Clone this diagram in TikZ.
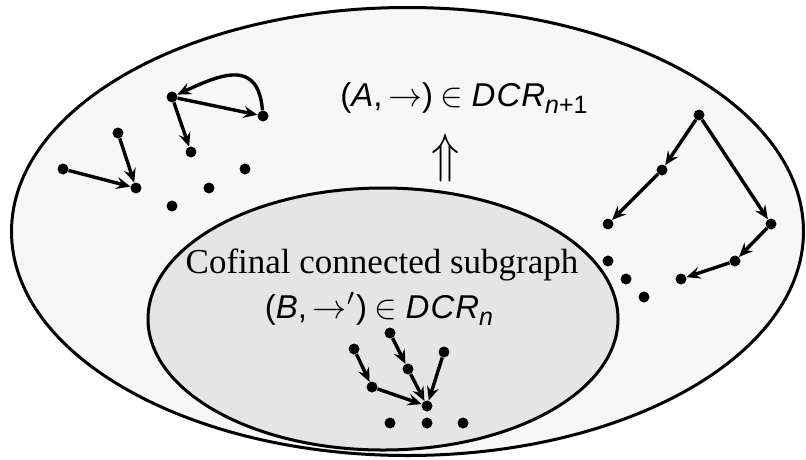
\documentclass[tikz,border=0pt]{standalone}
\usepackage{fontspec}
\setmainfont{Liberation Serif}
\setsansfont{Liberation Sans}
\usetikzlibrary{arrows.meta}
\newcommand{\sfi}[1]{\textsf{\itshape #1}}
\newcommand{\sfu}[1]{\textsf{#1}}
\newcommand{\bigsym}[2][3.4]{\scalebox{#1}{\fontsize{10}{12}\selectfont$#2$}}
\definecolor{outerfill}{HTML}{F7F7F7}
\definecolor{innerfill}{HTML}{E5E5E5}
\begin{document}
\begin{tikzpicture}[x=1pt,y=-1pt,
  dot/.style={circle,fill=black,inner sep=0pt,minimum size=11pt},
  edge/.style={line width=3.4pt,-{Stealth[length=14pt,width=12pt,inset=5pt]}},
  region/.style={draw=black,line width=3pt},
  lbl/.style={anchor=base,inner sep=0pt,font=\fontsize{33}{38}\selectfont},
  serif/.style={anchor=base,inner sep=0pt,font=\fontsize{35}{40}\selectfont}]
\useasboundingbox (0,0) rectangle (806,459);
% ellipses
\path[region,fill=outerfill] (407.5,231.5) ellipse [x radius=396, y radius=224];
\path[region,fill=innerfill] (383,319) ellipse [x radius=235, y radius=131];
% texts
\node[lbl] (top) at (464,106) {\sfu{(}\sfi{A}\sfu{,}\,\bigsym{\rightarrow}\sfu{)}\hspace{7pt}\bigsym{\in}\hspace{9pt}\sfi{D\kern1pt C\kern1pt R}\raisebox{-7pt}{\fontsize{25}{27}\selectfont\sfi{n}\sfu{+1}}};
\node[inner sep=0pt] (impl) at (446,158) {\scalebox{4.6}[5.4]{\fontsize{10}{12}\selectfont$\Uparrow$}};
\node[serif] (cof) at (382,273) {Cofinal connected subgraph};
\node[lbl] (bsub) at (379,318) {\sfu{(}\sfi{B}\sfu{,}\,\bigsym{\rightarrow'}\sfu{)}\hspace{7pt}\bigsym{\in}\hspace{9pt}\sfi{D\kern1pt C\kern1pt R}\raisebox{-7pt}{\fontsize{25}{27}\selectfont\sfi{n}}};
% left cluster
\node[dot] (a) at (63,169) {};
\node[dot] (b) at (118,133) {};
\node[dot] (c) at (136,188) {};
\node[dot] (d) at (172,97) {};
\node[dot] (e) at (263,116) {};
\node[dot] (f) at (191,152) {};
\node[dot] (l1) at (245,169) {};
\node[dot] (l2) at (209,188) {};
\node[dot] (l3) at (172,206) {};
\draw[edge] (a) -- (c);
\draw[edge] (b) -- (c);
\draw[edge] (d) -- (e);
\draw[edge] (d) -- (f);
\draw[edge] (e) to[out=95,in=25,looseness=1.5] (d);
% right cluster
\node[dot] (g) at (699,115) {};
\node[dot] (h) at (662,170) {};
\node[dot] (i) at (608,224) {};
\node[dot] (j) at (771,224) {};
\node[dot] (k) at (735,261) {};
\node[dot] (l) at (681,279) {};
\node[dot] (r1) at (608,261) {};
\node[dot] (r2) at (626,279) {};
\node[dot] (r3) at (644,297) {};
\draw[edge] (g) -- (h);
\draw[edge] (h) -- (i);
\draw[edge] (g) -- (j);
\draw[edge] (j) -- (k);
\draw[edge] (k) -- (l);
% bottom cluster
\node[dot] (m) at (354,349) {};
\node[dot] (n) at (390,333) {};
\node[dot] (o) at (408,369) {};
\node[dot] (p) at (444,352) {};
\node[dot] (q) at (372,387) {};
\node[dot] (s) at (427,406) {};
\node[dot] (b1) at (390,423) {};
\node[dot] (b2) at (427,423) {};
\node[dot] (b3) at (463,423) {};
\draw[edge] (m) -- (q);
\draw[edge] (n) -- (o);
\draw[edge] (o) -- (s);
\draw[edge] (q) -- (s);
\draw[edge] (p) -- (s);
\end{tikzpicture}
\end{document}
